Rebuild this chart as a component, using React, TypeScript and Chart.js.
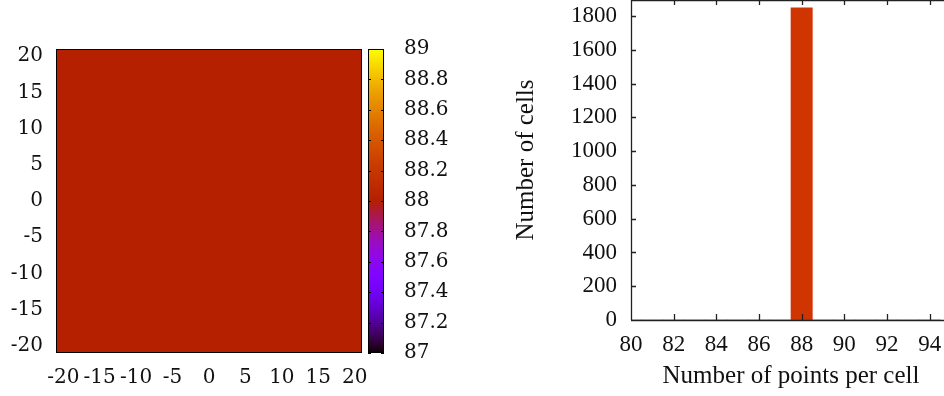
import React, { useEffect, useRef } from "react";
import { Chart, registerables } from "chart.js";
Chart.register(...registerables);

// ---------- data ----------
const gridX = [-21, -20, -19, -18, -17, -16, -15, -14, -13, -12, -11, -10, -9, -8, -7, -6, -5, -4, -3, -2, -1, 0, 1, 2, 3, 4, 5, 6, 7, 8, 9, 10, 11, 12, 13, 14, 15, 16, 17, 18, 19, 20, 21];
const gridY = [-21, -20, -19, -18, -17, -16, -15, -14, -13, -12, -11, -10, -9, -8, -7, -6, -5, -4, -3, -2, -1, 0, 1, 2, 3, 4, 5, 6, 7, 8, 9, 10, 11, 12, 13, 14, 15, 16, 17, 18, 19, 20, 21];
// points per cell in each row of the grid (every row reads 88)
const gridRow = [88, 88, 88, 88, 88, 88, 88, 88, 88, 88, 88, 88, 88, 88, 88, 88, 88, 88, 88, 88, 88, 88, 88, 88, 88, 88, 88, 88, 88, 88, 88, 88, 88, 88, 88, 88, 88, 88, 88, 88, 88, 88, 88];
const mapMin = -21;
const mapMax = 21;
const mapTicks = [-20, -15, -10, -5, 0, 5, 10, 15, 20];
const cbMin = 87;
const cbMax = 89;
const cbTicks = [87, 87.2, 87.4, 87.6, 87.8, 88, 88.2, 88.4, 88.6, 88.8, 89];

const histBins = [80, 81, 82, 83, 84, 85, 86, 87, 88, 89, 90, 91, 92, 93, 94];
const histCounts = [0, 0, 0, 0, 0, 0, 0, 0, 1849, 0, 0, 0, 0, 0, 0];
const histXMin = 80;
const histXMax = 95;
const histYMax = 1895;
const histXTicks = [80, 82, 84, 86, 88, 90, 92, 94];
const histYTicks = [0, 200, 400, 600, 800, 1000, 1200, 1400, 1600, 1800];

// ---------- styles ----------
const mapFont = { family: "'DejaVu Serif', serif", size: 20 };
const histTickFont = { family: "'Liberation Serif', serif", size: 23 };
const histTitleFont = { family: "'Liberation Serif', serif", size: 25 };
const textColor = "#111";
const barColor = "#d03400";

function palette(t: number): string {
  const c = Math.min(1, Math.max(0, t));
  const r = Math.sqrt(c);
  const g = c * c * c;
  const b = Math.max(0, Math.sin(2 * Math.PI * c));
  return `rgb(${Math.round(r * 255)},${Math.round(g * 255)},${Math.round(b * 255)})`;
}

const fmt = (v: number) => String(Number(Number(v).toFixed(1)));

function fixSize(prop: "width" | "height", size: number) {
  return (s: any) => {
    s[prop] = size;
    s.paddingTop = 0;
    s.paddingBottom = 0;
    s.paddingLeft = 0;
    s.paddingRight = 0;
  };
}

export default function App() {
  const mapRef = useRef<HTMLCanvasElement>(null);
  const histRef = useRef<HTMLCanvasElement>(null);

  useEffect(() => {
    const gridValues = gridY.map(() => gridRow);
    const cells: { x: number; y: number; v: number }[] = [];
    gridY.forEach((y, j) =>
      gridX.forEach((x, i) => cells.push({ x, y, v: gridValues[j][i] }))
    );

    const heatPlugin = {
      id: "heatCells",
      beforeDatasetsDraw(chart: any) {
        const { ctx, chartArea: a } = chart;
        const xs = chart.scales.x;
        const ys = chart.scales.y;
        ctx.save();
        ctx.beginPath();
        ctx.rect(a.left, a.top, a.right - a.left, a.bottom - a.top);
        ctx.clip();
        for (const c of cells) {
          const x0 = Math.floor(xs.getPixelForValue(c.x - 0.5));
          const x1 = Math.ceil(xs.getPixelForValue(c.x + 0.5));
          const y0 = Math.floor(ys.getPixelForValue(c.y + 0.5));
          const y1 = Math.ceil(ys.getPixelForValue(c.y - 0.5));
          ctx.fillStyle = palette((c.v - cbMin) / (cbMax - cbMin));
          ctx.fillRect(x0, y0, x1 - x0, y1 - y0);
        }
        ctx.restore();
        ctx.save();
        ctx.strokeStyle = "#000";
        ctx.lineWidth = 1;
        ctx.strokeRect(a.left + 0.5, a.top + 0.5, a.right - a.left - 1, a.bottom - a.top - 1);
        ctx.restore();
      },
      afterDraw(chart: any) {
        const { ctx, chartArea: a } = chart;
        const cb = chart.scales.cb;
        const x0 = a.right + 6;
        const w = 16;
        const yTop = cb.getPixelForValue(cbMax);
        const yBot = cb.getPixelForValue(cbMin);
        ctx.save();
        const grad = ctx.createLinearGradient(0, yBot, 0, yTop);
        for (let k = 0; k <= 64; k++) grad.addColorStop(k / 64, palette(k / 64));
        ctx.fillStyle = grad;
        ctx.fillRect(x0, yTop, w, yBot - yTop);
        ctx.strokeStyle = "#000";
        ctx.lineWidth = 1;
        ctx.beginPath();
        for (const t of cbTicks) {
          const py = Math.round(cb.getPixelForValue(t)) + 0.5;
          ctx.moveTo(x0, py);
          ctx.lineTo(x0 + 3, py);
          ctx.moveTo(x0 + w - 3, py);
          ctx.lineTo(x0 + w, py);
        }
        ctx.stroke();
        ctx.strokeRect(x0 + 0.5, yTop + 0.5, w - 1, yBot - yTop - 1);
        ctx.restore();
      },
    };

    const mapChart = new Chart(mapRef.current!, {
      type: "scatter",
      data: {
        datasets: [
          {
            data: cells.map((c) => ({ x: c.x, y: c.y })),
            pointRadius: 0,
            pointHoverRadius: 0,
          },
        ],
      },
      options: {
        responsive: false,
        animation: false,
        events: [],
        layout: { padding: { top: 49, left: 0, right: 0, bottom: 0 } },
        plugins: { legend: { display: false }, tooltip: { enabled: false } },
        scales: {
          x: {
            type: "linear",
            min: mapMin,
            max: mapMax,
            grid: { display: false, drawTicks: false },
            border: { display: false },
            afterBuildTicks: (s: any) => {
              s.ticks = mapTicks.map((v) => ({ value: v }));
            },
            afterFit: fixSize("height", 43),
            ticks: {
              autoSkip: false,
              maxRotation: 0,
              minRotation: 0,
              padding: 13,
              font: mapFont,
              color: textColor,
              callback: (v: any) => fmt(v),
            },
          },
          y: {
            type: "linear",
            min: mapMin,
            max: mapMax,
            grid: { display: false, drawTicks: false },
            border: { display: false },
            afterBuildTicks: (s: any) => {
              s.ticks = mapTicks.map((v) => ({ value: v }));
            },
            afterFit: fixSize("width", 56),
            ticks: {
              autoSkip: false,
              padding: 13,
              font: mapFont,
              color: textColor,
              callback: (v: any) => fmt(v),
            },
          },
          cb: {
            type: "linear",
            position: "right",
            min: cbMin,
            max: cbMax,
            grid: { display: false, drawTicks: false },
            border: { display: false },
            afterBuildTicks: (s: any) => {
              s.ticks = cbTicks.map((v) => ({ value: v }));
            },
            afterFit: fixSize("width", 98),
            ticks: {
              autoSkip: false,
              padding: 42,
              font: mapFont,
              color: textColor,
              callback: (v: any) => fmt(v),
            },
          },
        },
      } as any,
      plugins: [heatPlugin],
    });

    const framePlugin = {
      id: "histFrame",
      afterDraw(chart: any) {
        const { ctx, chartArea: a } = chart;
        const xs = chart.scales.x;
        const ys = chart.scales.y;
        ctx.save();
        ctx.strokeStyle = "#222";
        ctx.lineWidth = 1.3;
        ctx.beginPath();
        ctx.moveTo(a.left, a.top + 0.6);
        ctx.lineTo(a.right, a.top + 0.6);
        ctx.moveTo(a.left + 0.5, a.top);
        ctx.lineTo(a.left + 0.5, a.bottom);
        ctx.moveTo(a.left, a.bottom + 0.5);
        ctx.lineTo(a.right, a.bottom + 0.5);
        ctx.moveTo(a.right - 0.5, a.top);
        ctx.lineTo(a.right - 0.5, a.bottom);
        for (const t of histXTicks) {
          const px = Math.round(xs.getPixelForValue(t)) + 0.5;
          ctx.moveTo(px, a.bottom);
          ctx.lineTo(px, a.bottom - 6);
          ctx.moveTo(px, a.top);
          ctx.lineTo(px, a.top + 5);
        }
        for (const t of histYTicks) {
          const py = Math.round(ys.getPixelForValue(t)) + 0.5;
          ctx.moveTo(a.left, py);
          ctx.lineTo(a.left + 5, py);
          ctx.moveTo(a.right, py);
          ctx.lineTo(a.right - 5, py);
        }
        ctx.stroke();
        ctx.restore();
      },
    };

    const histChart = new Chart(histRef.current!, {
      type: "bar",
      data: {
        datasets: [
          {
            data: histBins.map((b, i) => ({ x: b, y: histCounts[i] })),
            backgroundColor: barColor,
            borderWidth: 0,
            barPercentage: 1,
            categoryPercentage: 1,
          },
        ],
      },
      options: {
        responsive: false,
        animation: false,
        events: [],
        layout: { padding: { top: 0, left: 8, right: 49, bottom: 0 } },
        plugins: { legend: { display: false }, tooltip: { enabled: false } },
        scales: {
          x: {
            type: "linear",
            min: histXMin,
            max: histXMax,
            offset: false,
            grid: { display: false, drawTicks: false },
            border: { display: false },
            afterBuildTicks: (s: any) => {
              s.ticks = histXTicks.map((v) => ({ value: v }));
            },
            afterFit: fixSize("height", 76),
            ticks: {
              autoSkip: false,
              maxRotation: 0,
              minRotation: 0,
              padding: 11,
              font: histTickFont,
              color: textColor,
              callback: (v: any) => fmt(v),
            },
            title: {
              display: true,
              text: "Number of points per cell",
              font: histTitleFont,
              color: textColor,
              padding: { top: 4, bottom: 5 },
            },
          },
          y: {
            type: "linear",
            min: 0,
            max: histYMax,
            grid: { display: false, drawTicks: false },
            border: { display: false },
            afterBuildTicks: (s: any) => {
              s.ticks = histYTicks.map((v) => ({ value: v }));
            },
            afterFit: fixSize("width", 123),
            ticks: {
              autoSkip: false,
              padding: 14,
              font: histTickFont,
              color: textColor,
              callback: (v: any) => fmt(v),
            },
            title: {
              display: true,
              text: "Number of cells",
              font: histTitleFont,
              color: textColor,
              padding: { top: 3, bottom: 3 },
            },
          },
        },
      } as any,
      plugins: [framePlugin],
    });

    return () => {
      mapChart.destroy();
      histChart.destroy();
    };
  }, []);

  return (
    <div
      style={{
        position: "fixed",
        left: 0,
        top: 0,
        width: 944,
        height: 396,
        overflow: "hidden",
        background: "#fff",
      }}
    >
      <canvas ref={mapRef} width={460} height={396} style={{ position: "absolute", left: 0, top: 0 }} />
      <canvas ref={histRef} width={500} height={396} style={{ position: "absolute", left: 500, top: 0 }} />
    </div>
  );
}
